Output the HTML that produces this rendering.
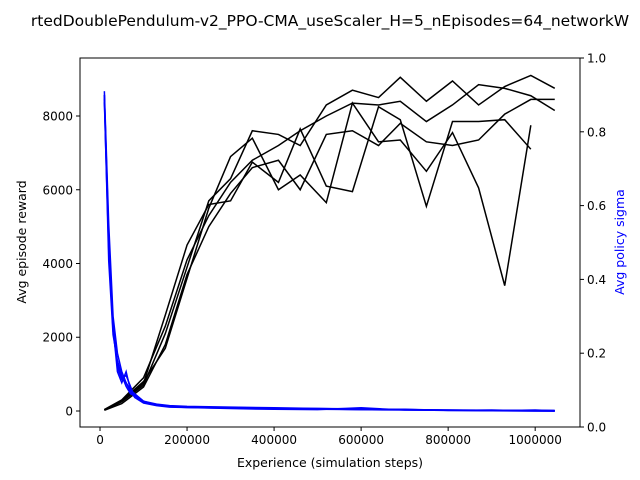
<!DOCTYPE html>
<html><head><meta charset="utf-8"><style>body{margin:0;background:#fff}svg{display:block;font-family:"DejaVu Sans","Liberation Sans",sans-serif}</style></head>
<body>
<svg id="chart" width="640" height="480" xmlns="http://www.w3.org/2000/svg">
<rect width="640" height="480" fill="#fff"/>
<text x="330" y="26" font-size="15.5" text-anchor="middle">rtedDoublePendulum-v2_PPO-CMA_useScaler_H=5_nEpisodes=64_networkW</text>
<g id="plot"></g>
<rect x="80" y="58" width="500" height="369" fill="none" stroke="#000" stroke-width="1"/>
<text x="330" y="467" font-size="12.5" text-anchor="middle">Experience (simulation steps)</text>
<text transform="translate(26,242) rotate(-90)" font-size="12.5" text-anchor="middle">Avg episode reward</text>
<text transform="translate(624,242) rotate(-90)" font-size="12.5" text-anchor="middle" fill="#0000ff">Avg policy sigma</text>
</svg>
<script>
const xSteps=[10000,50000,100000,150000,200000,250000,300000,350000,410000,460000,520000,580000,640000,690000,750000,810000,870000,930000,990000,1045000];
const reward1=[30,250,700,2100,3900,5700,6300,7600,7500,7200,8300,8700,8500,9050,8400,8950,8300,8800,9100,8750];
const reward2=[40,300,900,2300,4100,5300,6200,6800,7200,7600,8000,8350,8300,8400,7850,8300,8850,8750,8550,8150];
const reward3=[20,200,650,1800,3700,5000,5900,6600,6800,6000,7500,7600,7200,7800,7300,7200,7350,8050,8450,8450];
const reward4=[30,280,800,1700,3600,5500,6900,7400,6000,6400,5650,8350,7300,7350,6500,7550,6050,3400,7750,null];
const reward5=[25,260,750,2600,4500,5600,5700,6750,6200,7650,6100,5950,8250,7900,5550,7850,7850,7900,7100,null];
const sigmaSteps=[10000,20000,30000,40000,50000,60000,70000,80000,100000,130000,160000,200000,300000,400000,500000,600000,700000,800000,900000,1000000,1045000];
const sigma1=[0.91,0.55,0.30,0.20,0.15,0.12,0.10,0.09,0.07,0.06,0.055,0.055,0.052,0.050,0.050,0.048,0.047,0.046,0.045,0.045,0.045];
const sigma2=[0.90,0.50,0.28,0.16,0.13,0.14,0.11,0.08,0.065,0.058,0.054,0.053,0.050,0.048,0.047,0.052,0.046,0.045,0.044,0.046,0.044];
const sigma3=[0.89,0.45,0.25,0.18,0.14,0.11,0.09,0.085,0.068,0.060,0.056,0.054,0.053,0.051,0.049,0.047,0.048,0.045,0.046,0.044,0.043];
const sigma4=[0.90,0.52,0.27,0.15,0.12,0.15,0.10,0.088,0.07,0.062,0.058,0.056,0.054,0.052,0.050,0.049,0.047,0.046,0.045,0.045,0.044];
const sigma5=[0.88,0.48,0.26,0.17,0.13,0.12,0.095,0.08,0.066,0.059,0.055,0.053,0.051,0.049,0.048,0.047,0.046,0.045,0.044,0.043,0.043];
const xTicks=[0,200000,400000,600000,800000,1000000];
const yTicks=[0,2000,4000,6000,8000];
const y2Ticks=[0.0,0.2,0.4,0.6,0.8,1.0];

const L=80,R=580,T=58,B=427;
const xMin=-46000,xMax=1103000,yMin=-434,yMax=9573;
const sx=v=>L+(v-xMin)/(xMax-xMin)*(R-L);
const sy=v=>B-(v-yMin)/(yMax-yMin)*(B-T);
const sy2=v=>B-v*(B-T);
const NS='http://www.w3.org/2000/svg';
const g=document.getElementById('plot');
function mk(t,a){const e=document.createElementNS(NS,t);for(const k in a)e.setAttribute(k,a[k]);g.appendChild(e);return e;}
[reward1,reward2,reward3,reward4,reward5].forEach((s,i)=>{
 const pts=[];s.forEach((v,j)=>{if(v!==null)pts.push(sx(xSteps[j])+','+sy(v));});
 const e=mk('polyline',{points:pts.join(' '),fill:'none',stroke:'#000','stroke-width':1.5});
 
 
});
[sigma1,sigma2,sigma3,sigma4,sigma5].forEach((s,i)=>{
 const e=mk('polyline',{points:s.map((v,j)=>sx(sigmaSteps[j])+','+sy2(v)).join(' '),fill:'none',stroke:'#0000ff','stroke-width':1.5});
 
 
});
xTicks.forEach(v=>{
 const x=sx(v);
 mk('line',{x1:x,x2:x,y1:B,y2:B+4,stroke:'#000'});
 const t=mk('text',{x:x,y:B+17,'font-size':12,'text-anchor':'middle'});t.textContent=v;
 
 
});
yTicks.forEach(v=>{
 const y=sy(v);
 mk('line',{x1:L-4,x2:L,y1:y,y2:y,stroke:'#000'});
 const t=mk('text',{x:L-7,y:y+4.5,'font-size':12,'text-anchor':'end'});t.textContent=v;
 
 
});
y2Ticks.forEach(v=>{
 const y=sy2(v);
 mk('line',{x1:R,x2:R+4,y1:y,y2:y,stroke:'#000'});
 const t=mk('text',{x:R+7,y:y+4.5,'font-size':12,'text-anchor':'start'});t.textContent=v.toFixed(1);
 
 
});
</script>
</body></html>
